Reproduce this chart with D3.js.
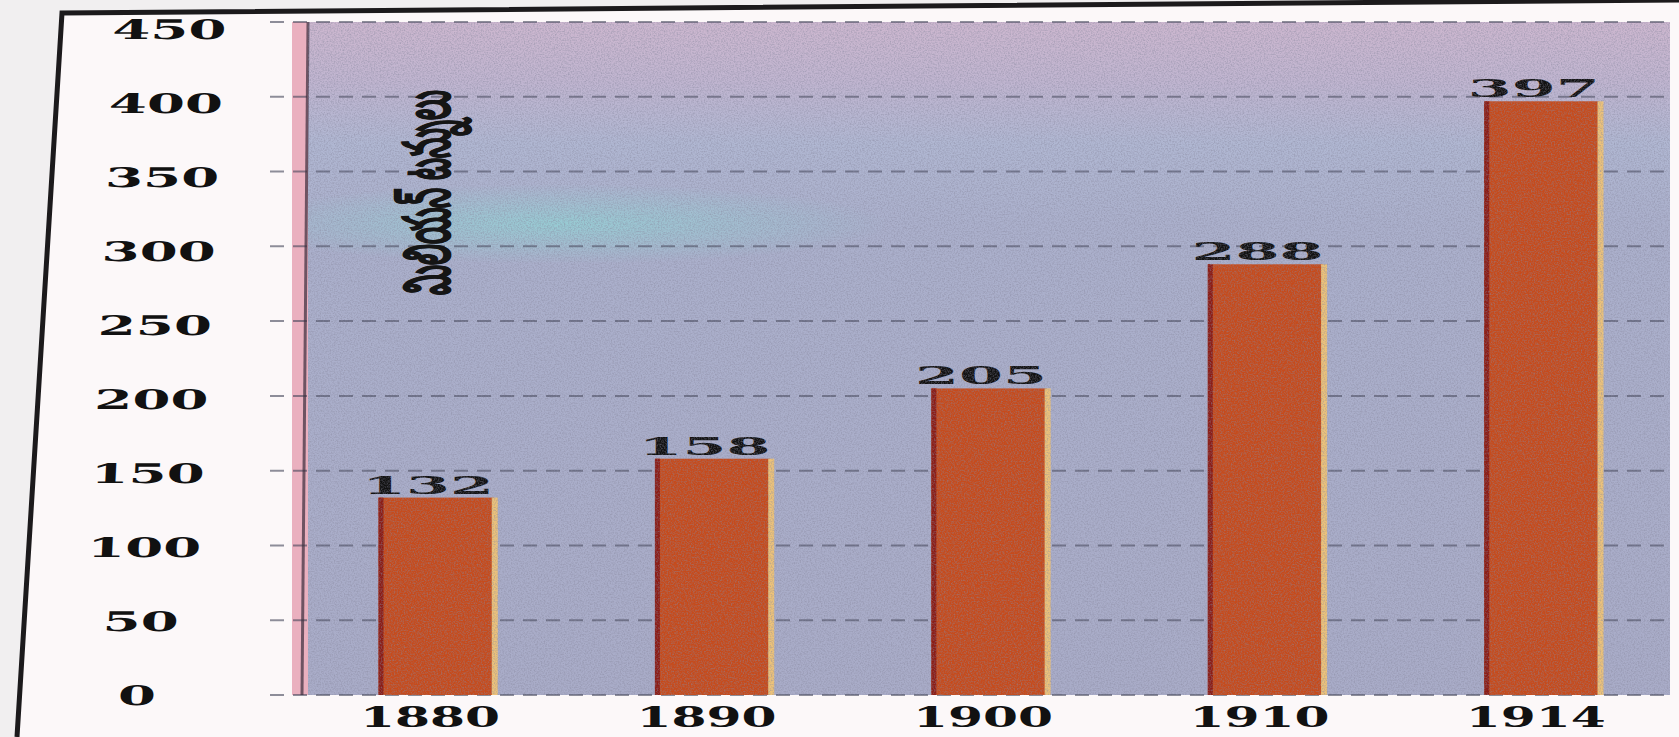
<!DOCTYPE html>
<html>
<head>
<meta charset="utf-8">
<script src="https://cdn.jsdelivr.net/npm/d3@7"></script>
<style>
  html, body { margin: 0; padding: 0; background: #f1eff0; }
  svg { display: block; }
  .num { font-family: "DejaVu Serif", "Liberation Serif", serif; font-weight: bold; fill: #111; }
</style>
</head>
<body>
<svg id="chart" width="1679" height="737"></svg>
<script>
// data
const years = ["1880", "1890", "1900", "1910", "1914"];
const values = [132, 158, 205, 288, 397];
const yTicks = [0, 50, 100, 150, 200, 250, 300, 350, 400, 450];
const yLabel = "మిలియన్ టన్నులు";

const W = 1679, H = 737;
const plot = { left: 308, right: 1670, top: 22, bottom: 695 };

const svg = d3.select("#chart");
const defs = svg.append("defs");

// page inside the frame
svg.append("path")
  .attr("d", `M17,${H} L62,13 L${W},0 L${W},${H} Z`)
  .attr("fill", "#fcf8f9");

// plot background, faded like a printed page
const bg = defs.append("linearGradient")
  .attr("id", "bg").attr("x1", 0).attr("y1", 0).attr("x2", 0).attr("y2", 1);
[["0%", "#cdb7cf"], ["9%", "#c0b5d0"], ["18%", "#b0b7d2"], ["30%", "#abb0cc"], ["100%", "#a9acc8"]]
  .forEach(function (s) { bg.append("stop").attr("offset", s[0]).attr("stop-color", s[1]); });

const cyan = defs.append("radialGradient").attr("id", "cyan")
  .attr("cx", 0.5).attr("cy", 0.5).attr("r", 0.5);
cyan.append("stop").attr("offset", "0%").attr("stop-color", "#8fd6d6").attr("stop-opacity", 0.7);
cyan.append("stop").attr("offset", "100%").attr("stop-color", "#8fd6d6").attr("stop-opacity", 0);

defs.append("clipPath").attr("id", "plotClip")
  .append("rect")
  .attr("x", plot.left).attr("y", plot.top)
  .attr("width", plot.right - plot.left).attr("height", plot.bottom - plot.top);

// print grain
const grain = defs.append("filter").attr("id", "grain")
  .attr("x", 0).attr("y", 0).attr("width", 1).attr("height", 1);
grain.append("feTurbulence")
  .attr("type", "fractalNoise").attr("baseFrequency", 0.7)
  .attr("numOctaves", 2).attr("seed", 3);
grain.append("feColorMatrix")
  .attr("type", "matrix")
  .attr("values", "0 0 0 0 0.25  0 0 0 0 0.25  0 0 0 0 0.35  0 0 0 -2.2 1.35");

const x = d3.scaleBand()
  .domain(years)
  .range([plot.left, plot.right])
  .paddingInner(0.583)
  .paddingOuter(0.255);

const y = d3.scaleLinear()
  .domain([0, 450])
  .range([plot.bottom, plot.top]);

const back = svg.append("g").attr("clip-path", "url(#plotClip)");

back.append("rect")
  .attr("x", plot.left).attr("y", plot.top)
  .attr("width", plot.right - plot.left).attr("height", plot.bottom - plot.top)
  .attr("fill", "url(#bg)");

back.append("ellipse")
  .attr("cx", 560).attr("cy", y(315))
  .attr("rx", 330).attr("ry", 40)
  .attr("fill", "url(#cyan)");

// pink edge on the left of the plot
svg.append("rect")
  .attr("x", plot.left - 16).attr("y", plot.top)
  .attr("width", 16).attr("height", plot.bottom - plot.top)
  .attr("fill", "#eab0bf");

// grid lines + ticks
svg.append("g")
  .selectAll("line.grid")
  .data(yTicks)
  .enter()
  .append("line")
  .classed("grid", true)
  .attr("x1", plot.left - 38)
  .attr("x2", plot.right)
  .attr("y1", function (d) { return y(d); })
  .attr("y2", function (d) { return y(d); })
  .attr("stroke", "#45475a")
  .attr("stroke-width", 2)
  .attr("stroke-dasharray", "14,9")
  .attr("opacity", 0.6);

// dark left edge of the plot
svg.append("line")
  .attr("x1", plot.left).attr("x2", plot.left - 6)
  .attr("y1", plot.top).attr("y2", plot.bottom)
  .attr("stroke", "#3a2d3c").attr("stroke-width", 3).attr("opacity", 0.7);

// bars
const bars = svg.append("g")
  .selectAll("g.bar")
  .data(values)
  .enter()
  .append("g")
  .classed("bar", true);

bars.append("rect")
  .attr("x", function (d, i) { return x(years[i]); })
  .attr("y", function (d) { return y(d); })
  .attr("width", x.bandwidth())
  .attr("height", function (d) { return y(0) - y(d); })
  .attr("fill", "#c64b1c");

bars.append("rect")
  .attr("x", function (d, i) { return x(years[i]); })
  .attr("y", function (d) { return y(d); })
  .attr("width", 5)
  .attr("height", function (d) { return y(0) - y(d); })
  .attr("fill", "#8c1d16");

bars.append("rect")
  .attr("x", function (d, i) { return x(years[i]) + x.bandwidth() - 2; })
  .attr("y", function (d) { return y(d); })
  .attr("width", 6)
  .attr("height", function (d) { return y(0) - y(d); })
  .attr("fill", "#ecc27a");

// grain over the whole plot, bars included
svg.append("rect")
  .attr("x", plot.left).attr("y", plot.top)
  .attr("width", plot.right - plot.left).attr("height", plot.bottom - plot.top)
  .attr("filter", "url(#grain)")
  .attr("opacity", 0.5)
  .attr("pointer-events", "none");

// value labels
bars.append("text")
  .attr("class", "num")
  .attr("x", function (d, i) { return x(years[i]) + x.bandwidth() / 2 - 8; })
  .attr("y", function (d) { return y(d) - 4; })
  .attr("text-anchor", "middle")
  .attr("font-size", 25)
  .attr("textLength", function (d) { return String(d).length * 44; })
  .attr("lengthAdjust", "spacingAndGlyphs")
  .text(function (d) { return d; });

// y tick labels (slightly slanted, like the photo)
svg.append("g")
  .attr("transform", "skewX(-2.8)")
  .selectAll("text")
  .data(yTicks)
  .enter()
  .append("text")
  .attr("class", "num")
  .attr("x", 171)
  .attr("y", function (d) { return y(d) + 10 + 7 * d / 450; })
  .attr("text-anchor", "middle")
  .attr("font-size", 27)
  .attr("textLength", function (d) { return String(d).length * 38; })
  .attr("lengthAdjust", "spacingAndGlyphs")
  .text(function (d) { return d; });

// x labels
svg.append("g")
  .selectAll("text")
  .data(years)
  .enter()
  .append("text")
  .attr("class", "num")
  .attr("x", function (d) { return x(d) + x.bandwidth() / 2 - 6; })
  .attr("y", 727)
  .attr("text-anchor", "middle")
  .attr("font-size", 27)
  .attr("textLength", 140)
  .attr("lengthAdjust", "spacingAndGlyphs")
  .text(function (d) { return d; });

// rotated axis title, squeezed along its length to fit like the print
const title = svg.append("text")
  .attr("text-anchor", "middle")
  .attr("dominant-baseline", "middle")
  .attr("font-family", "'Noto Sans', 'DejaVu Sans', sans-serif")
  .attr("font-weight", "bold")
  .attr("font-size", 64)
  .attr("fill", "#151515")
  .attr("stroke", "#151515")
  .attr("stroke-width", 1.2)
  .text(yLabel);
const natural = title.node().getComputedTextLength() || 205;
title.attr("transform", "translate(432," + y(336) + ") rotate(-90) scale(" + (205 / natural) + ",1)");

// the frame of the page
svg.append("path")
  .attr("d", `M17,${H} L62,13 L${W},0`)
  .attr("fill", "none")
  .attr("stroke", "#1c1a1c")
  .attr("stroke-width", 5);
</script>
</body>
</html>
